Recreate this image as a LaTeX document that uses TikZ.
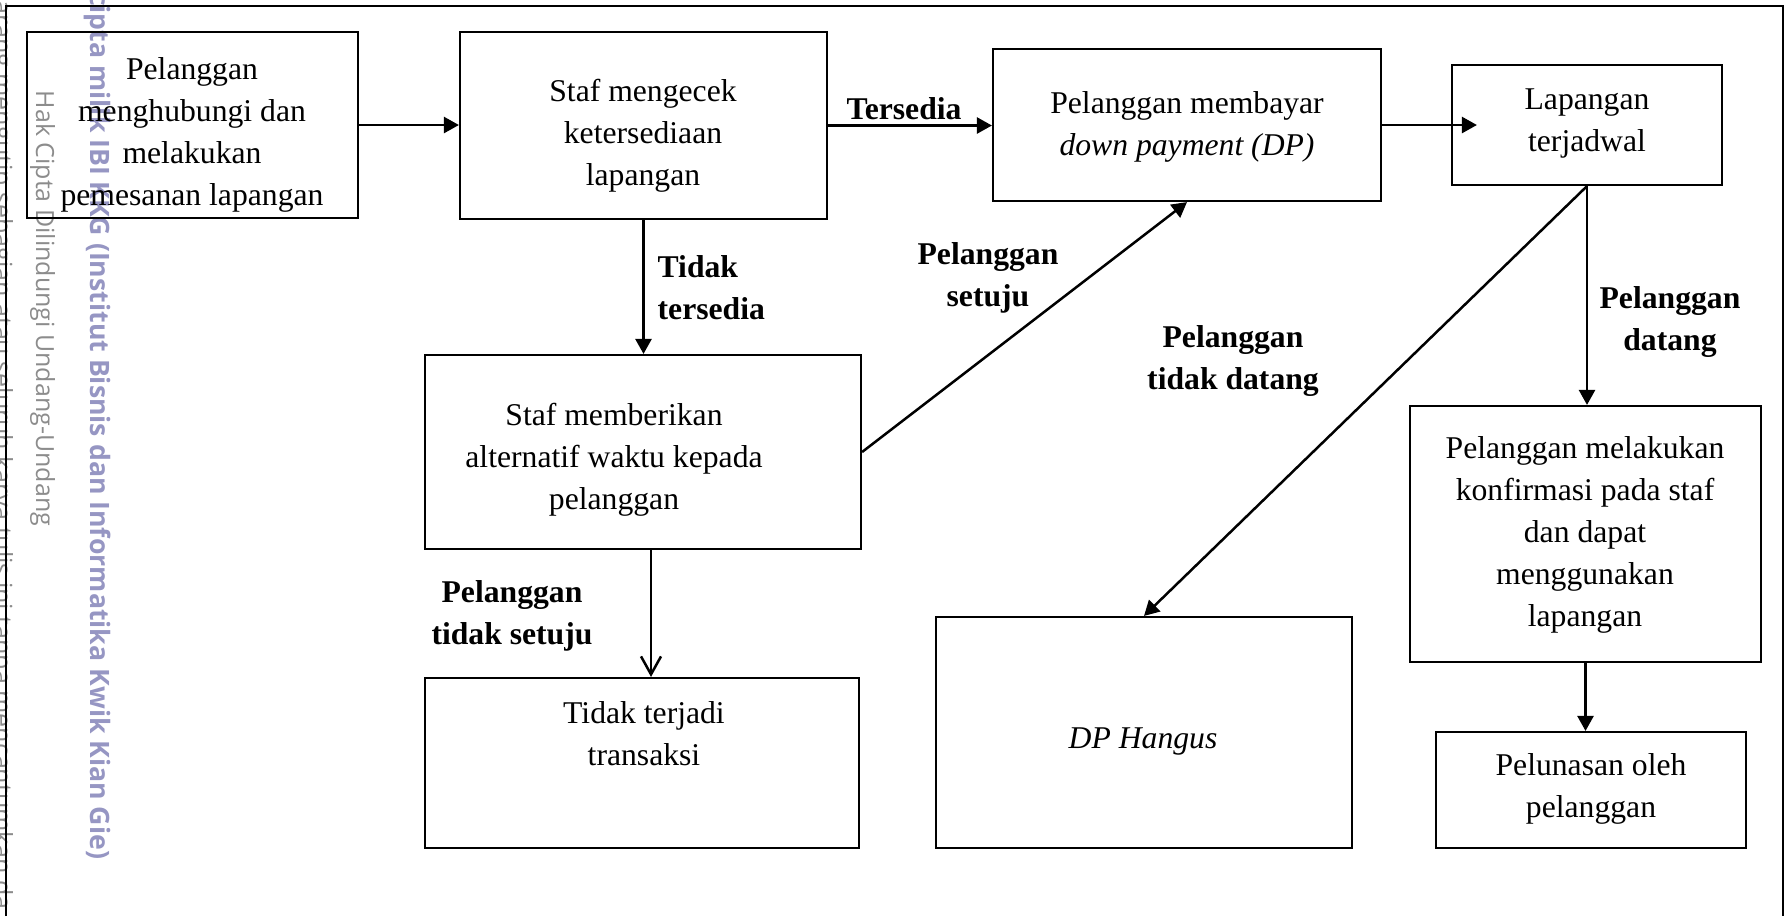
\documentclass[tikz,border=0pt]{standalone}
\usepackage{fontspec}
\setmainfont{Liberation Serif}
\newfontfamily\wmfont{Open Sans}
\usetikzlibrary{arrows.meta}
\definecolor{wmgray}{RGB}{140,140,140}
\definecolor{wmpurple}{RGB}{150,150,195}
\begin{document}
\begin{tikzpicture}[x=0.3pt,y=-0.3pt,
  box/.style={draw, line width=0.65pt, inner sep=0pt},
  txt/.style={font=\fontsize{9.5}{12.6}\selectfont, align=center, inner sep=0pt},
  lbl/.style={font=\fontsize{9.5}{12.6}\selectfont\bfseries, align=center, inner sep=0pt},
  arr/.style={line width=0.75pt, -{Triangle[length=4.5pt,width=4.8pt]}},
  arrv/.style={line width=0.75pt, -{Straight Barb[length=5.4pt,width=6pt]}},
  wm/.style={rotate=-90, inner sep=0pt}
]
\useasboundingbox (0,0) rectangle (1788,916);

% watermark
\begin{scope}
\clip (0,0) rectangle (1788,916);
\node[wm, anchor=base west, text=wmgray, font=\wmfont\fontsize{7.5}{9}\selectfont] (wm1) at (-6,0) {arang mengutip sebagian atau seluruh karya tulis ini tanpa mencantumkan da};
\node[wm, anchor=base west, text=wmgray, font=\wmfont\fontsize{7.5}{9}\selectfont] (wm2) at (36,90) {Hak Cipta Dilindungi Undang-Undang};
\node[wm, anchor=base east, text=wmpurple, font=\wmfont\bfseries\fontsize{8}{9}\selectfont] (wm3) at (90,860) {cipta milik IBI KKG (Institut Bisnis dan Informatika Kwik Kian Gie)};
\end{scope}

% outer frame
\draw[line width=0.65pt] (6,916) -- (6,6) -- (1783,6) -- (1783,916);

% boxes
\node[box, minimum width=99.3pt, minimum height=55.8pt] (b1) at (192.5,125) {};
\node[box, minimum width=110.1pt, minimum height=56.1pt] (b2) at (643.5,125.5) {};
\node[box, minimum width=116.4pt, minimum height=45.6pt] (b3) at (1187,125) {};
\node[box, minimum width=81pt, minimum height=36pt] (b4) at (1587,125) {};
\node[box, minimum width=130.8pt, minimum height=58.2pt] (b5) at (643,452) {};
\node[box, minimum width=130.2pt, minimum height=51pt] (b6) at (642,763) {};
\node[box, minimum width=124.8pt, minimum height=69.3pt] (b7) at (1144,732.5) {};
\node[box, minimum width=105.3pt, minimum height=76.8pt] (b8) at (1585.5,534) {};
\node[box, minimum width=93pt, minimum height=34.8pt] (b9) at (1591,790) {};

% box texts
\node[txt] (t1) at (192,135) {Pelanggan\\menghubungi dan\\melakukan\\pemesanan lapangan};
\node[txt] (t2) at (643,136) {Staf mengecek\\ketersediaan\\lapangan};
\node[txt] (t3) at (1187,127) {Pelanggan membayar\\\textit{down payment (DP)}};
\node[txt] (t4) at (1587,123) {Lapangan\\terjadwal};
\node[txt] (t5) at (614,460) {Staf memberikan\\alternatif waktu kepada\\pelanggan};
\node[txt] (t6) at (644,734) {Tidak terjadi\\transaksi};
\node[txt] (t7) at (1143,741) {\textit{DP Hangus}};
\node[txt] (t8) at (1585,535) {Pelanggan melakukan\\konfirmasi pada staf\\dan dapat\\menggunakan\\lapangan};
\node[txt] (t9) at (1591,789) {Pelunasan oleh\\pelanggan};

% labels
\node[lbl] (l1) at (904,109) {Tersedia};
\node[lbl, align=left, anchor=west] (l2) at (657,288) {Tidak\\tersedia};
\node[lbl] (l3) at (988,278) {Pelanggan\\setuju};
\node[lbl] (l4) at (1233,361) {Pelanggan\\tidak datang};
\node[lbl] (l5) at (1670,322) {Pelanggan\\datang};
\node[lbl] (l6) at (512,616) {Pelanggan\\tidak setuju};

% connectors
\draw[arr] (b1.east) -- (b1.east -| b2.west);
\draw[arr] (b2.east) -- (b2.east -| b3.west);
\draw[arr, shorten >=-7.8pt] (b3.east) -- (b3.east -| b4.west);
\draw[arr] (b2.south) -- (b2.south |- b5.north);
\draw[arr] (b5.east) -- (b3.south);
\draw[arrv] ([xshift=2.4pt]b5.south) -- ([xshift=2.4pt]b5.south |- b6.north);
\draw[arr] (b4.south) -- (b7.north);
\draw[arr] (b4.south) -- (b4.south |- b8.north);
\draw[arr] (b8.south) -- (b8.south |- b9.north);
\end{tikzpicture}
\end{document}
